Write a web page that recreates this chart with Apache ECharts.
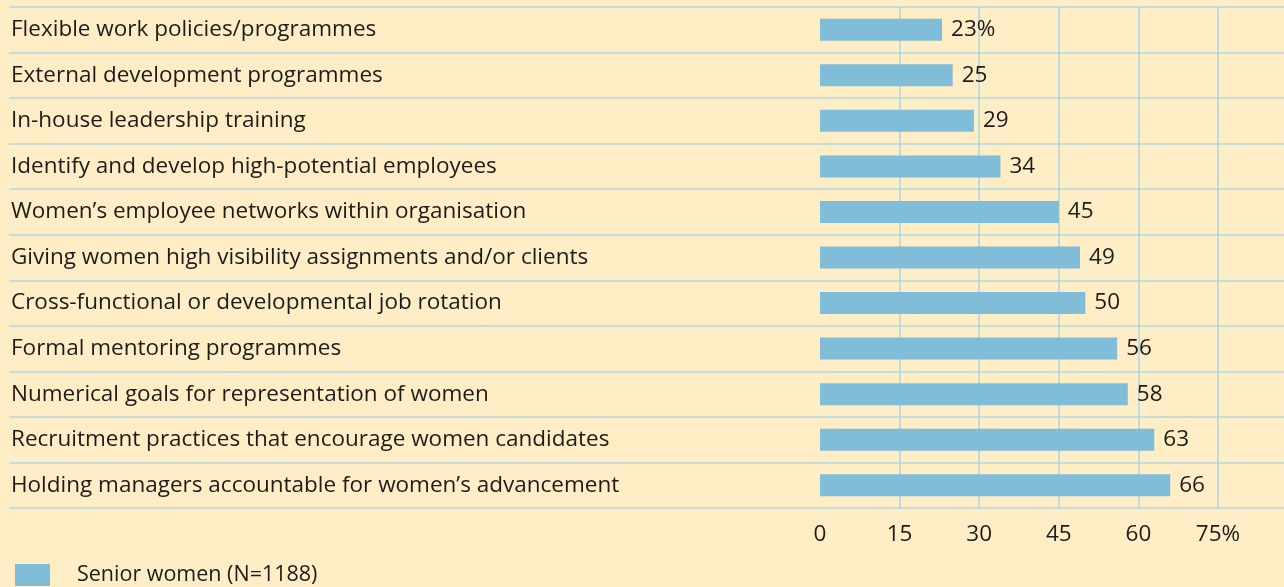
<!DOCTYPE html>
<html>
<head>
<meta charset="utf-8">
<script src="https://cdn.jsdelivr.net/npm/echarts@6/dist/echarts.min.js"></script>
<style>
  html, body { margin: 0; padding: 0; background: #ffedc5; }
  #chart { width: 1284px; height: 587px; }
</style>
</head>
<body>
<div id="chart"></div>
<script>
// Top to bottom, as printed
const categories = [
  "Flexible work policies/programmes",
  "External development programmes",
  "In-house leadership training",
  "Identify and develop high-potential employees",
  "Women\u2019s employee networks within organisation",
  "Giving women high visibility assignments and/or clients",
  "Cross-functional or developmental job rotation",
  "Formal mentoring programmes",
  "Numerical goals for representation of women",
  "Recruitment practices that encourage women candidates",
  "Holding managers accountable for women\u2019s advancement",
];
const seniorWomen = [23, 25, 29, 34, 45, 49, 50, 56, 58, 63, 66];
const xTicks = [0, 15, 30, 45, 60, 75];

const FONT = "Open Sans";
const SIZE = 22.5;
const TEXT = "#1c1c1c";
const LINE = "#a9d4e6";

const chart = echarts.init(document.getElementById("chart"));
chart.setOption({
  animation: false,
  backgroundColor: "#ffedc5",
  textStyle: { fontFamily: FONT },
  legend: {
    left: 15,
    top: 564,
    padding: 0,
    itemWidth: 35,
    itemHeight: 22,
    icon: "rect",
    textStyle: { fontSize: 21.5, color: TEXT, fontFamily: FONT, padding: [6, 0, 0, 22] },
    data: ["Senior women (N=1188)"],
  },
  grid: [
    { left: 820, right: 66, top: 7, bottom: 79 },
    { left: 9, right: 0, top: 7, bottom: 79 },
  ],
  xAxis: [
    {
      gridIndex: 0,
      type: "value",
      min: 0,
      max: 75,
      interval: 15,
      axisLine: { show: false },
      axisTick: { show: false },
      splitLine: { show: true, showMinLine: false, lineStyle: { color: LINE, width: 1.5 } },
      axisLabel: {
        margin: 15,
        fontSize: SIZE,
        color: TEXT,
        fontFamily: FONT,
        formatter: (v) => (v === xTicks[xTicks.length - 1] ? v + "%" : String(v)),
      },
    },
    { gridIndex: 1, type: "value", show: false, min: 0, max: 1 },
  ],
  yAxis: [
    {
      gridIndex: 0,
      type: "category",
      inverse: true,
      data: categories,
      axisLine: { show: false },
      axisTick: { show: false },
      splitLine: { show: false },
      axisLabel: {
        align: "left",
        margin: 809,
        fontSize: SIZE,
        color: TEXT,
        fontFamily: FONT,
        padding: [7, 0, 0, 0],
      },
    },
    {
      gridIndex: 1,
      type: "category",
      inverse: true,
      data: categories,
      axisLine: { show: false },
      axisTick: { show: false },
      axisLabel: { show: false },
      splitLine: { show: true, lineStyle: { color: "#b0d8e2", width: 1.5 } },
    },
  ],
  series: [
    {
      name: "Senior women (N=1188)",
      type: "bar",
      xAxisIndex: 0,
      yAxisIndex: 0,
      data: seniorWomen,
      barWidth: 22,
      itemStyle: { color: "#80bdd9" },
      label: {
        show: true,
        position: "right",
        distance: 9,
        fontSize: SIZE,
        color: TEXT,
        fontFamily: FONT,
        padding: [7, 0, 0, 0],
        formatter: (p) => (p.dataIndex === 0 ? p.value + "%" : String(p.value)),
      },
    },
  ],
});
</script>
</body>
</html>
